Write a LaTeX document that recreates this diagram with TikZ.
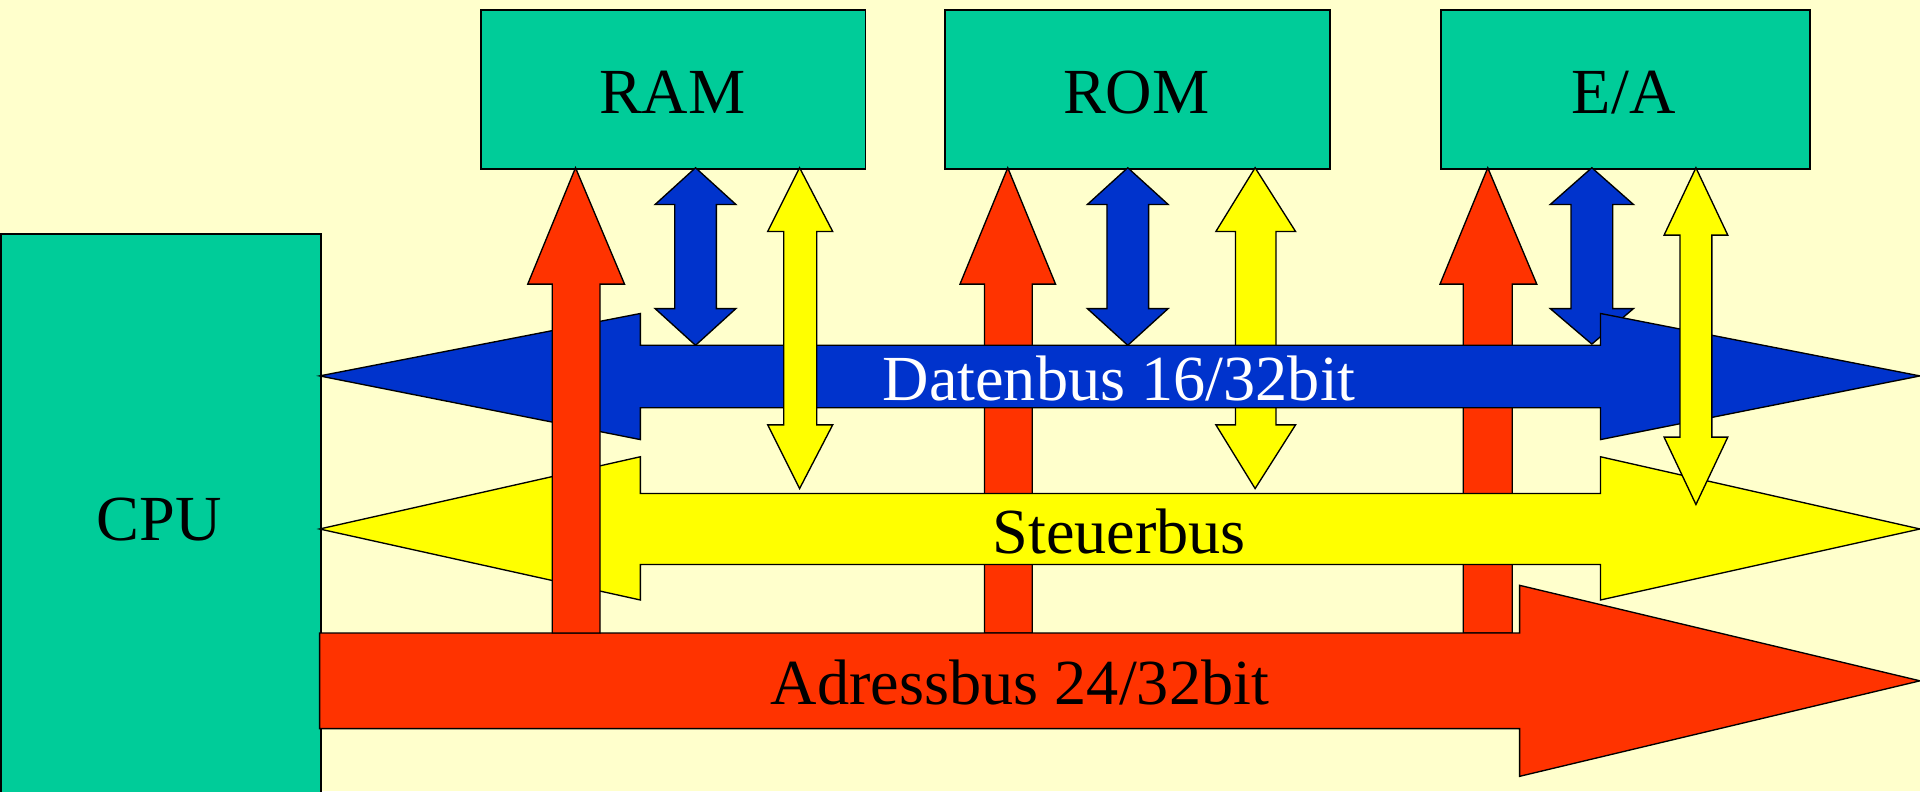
\documentclass[tikz,border=0pt]{standalone}
\usepackage{fontspec}
\setmainfont{Liberation Serif}
\definecolor{bg}{HTML}{FFFFCC}
\definecolor{boxgreen}{HTML}{00CC99}
\definecolor{busblue}{HTML}{0033CC}
\definecolor{busred}{HTML}{FF3300}
\definecolor{busyellow}{HTML}{FFFF00}
\begin{document}
\begin{tikzpicture}[x=1pt,y=-1pt,
  unit/.style={draw=black, line width=1.6pt, fill=boxgreen, inner sep=0pt, anchor=north west, rectangle},
  blk/.style={draw=black, line width=1.1pt, line join=miter},
  lbl/.style={font=\fontsize{52.5}{60}\selectfont, anchor=base, inner sep=0pt},
]
\useasboundingbox (0,0) rectangle (1568,646);
\clip (0,0) rectangle (1568,646);
\fill[bg] (0,0) rectangle (1568,646);

% units
\node[unit, minimum width=314pt, minimum height=130pt] (ram) at (392,7) {};
\node[unit, minimum width=314pt, minimum height=130pt] (rom) at (771,7) {};
\node[unit, minimum width=301pt, minimum height=130pt] (ea) at (1176,7) {};
\node[unit, minimum width=261pt, minimum height=480pt] (cpu) at (0,190) {};

% back layer: blue verticals, ROM/EA red, ROM yellow
\filldraw[blk, fill=busblue] (568,137) -- (601,167) -- (585,167) -- (585,252) -- (601,252) -- (568,282) -- (535,252) -- (551,252) -- (551,167) -- (535,167) -- cycle;
\filldraw[blk, fill=busblue] (921,137) -- (954,167) -- (938,167) -- (938,252) -- (954,252) -- (921,282) -- (888,252) -- (904,252) -- (904,167) -- (888,167) -- cycle;
\filldraw[blk, fill=busblue] (1300,137) -- (1334,167) -- (1317,167) -- (1317,252) -- (1334,252) -- (1300,281) -- (1266,252) -- (1283,252) -- (1283,167) -- (1266,167) -- cycle;
\filldraw[blk, fill=busred] (823,137) -- (862,232) -- (843,232) -- (843,517) -- (804,517) -- (804,232) -- (784,232) -- cycle;
\filldraw[blk, fill=busred] (1215,137) -- (1255,232) -- (1235,232) -- (1235,517) -- (1195,517) -- (1195,232) -- (1176,232) -- cycle;
\filldraw[blk, fill=busyellow] (1025,137) -- (1058,189) -- (1042,189) -- (1042,347) -- (1058,347) -- (1025,399) -- (993,347) -- (1009,347) -- (1009,189) -- (993,189) -- cycle;

% buses
\filldraw[blk, fill=busblue] (261,307) -- (523,256) -- (523,282) -- (1307,282) -- (1307,256) -- (1568,307) -- (1307,359) -- (1307,333) -- (523,333) -- (523,359) -- cycle;
\filldraw[blk, fill=busyellow] (261,432) -- (523,373) -- (523,403) -- (1307,403) -- (1307,373) -- (1568,432) -- (1307,490) -- (1307,461) -- (523,461) -- (523,490) -- cycle;
\filldraw[blk, fill=busred] (261,517) -- (1241,517) -- (1241,478) -- (1568,556) -- (1241,634) -- (1241,595) -- (261,595) -- cycle;

% front layer
\filldraw[blk, fill=busred] (470,137) -- (510,232) -- (490,232) -- (490,517) -- (451,517) -- (451,232) -- (431,232) -- cycle;
\filldraw[blk, fill=busyellow] (653,137) -- (680,189) -- (667,189) -- (667,347) -- (680,347) -- (653,399) -- (627,347) -- (640,347) -- (640,189) -- (627,189) -- cycle;
\filldraw[blk, fill=busyellow] (1385,137) -- (1411,192) -- (1398,192) -- (1398,357) -- (1411,357) -- (1385,412) -- (1359,357) -- (1372,357) -- (1372,192) -- (1359,192) -- cycle;

% labels
\node[lbl] (ramtxt) at (549,93) {RAM};
\node[lbl] (romtxt) at (928,93) {ROM};
\node[lbl] (eatxt) at (1326,93) {E/A};
\node[lbl] (cputxt) at (130,441) {CPU};
\node[lbl, text=white] (dtxt) at (914,327) {Datenbus 16/32bit};
\node[lbl] (stxt) at (914,452) {Steuerbus};
\node[lbl] (atxt) at (833,575) {Adressbus 24/32bit};
\end{tikzpicture}
\end{document}
